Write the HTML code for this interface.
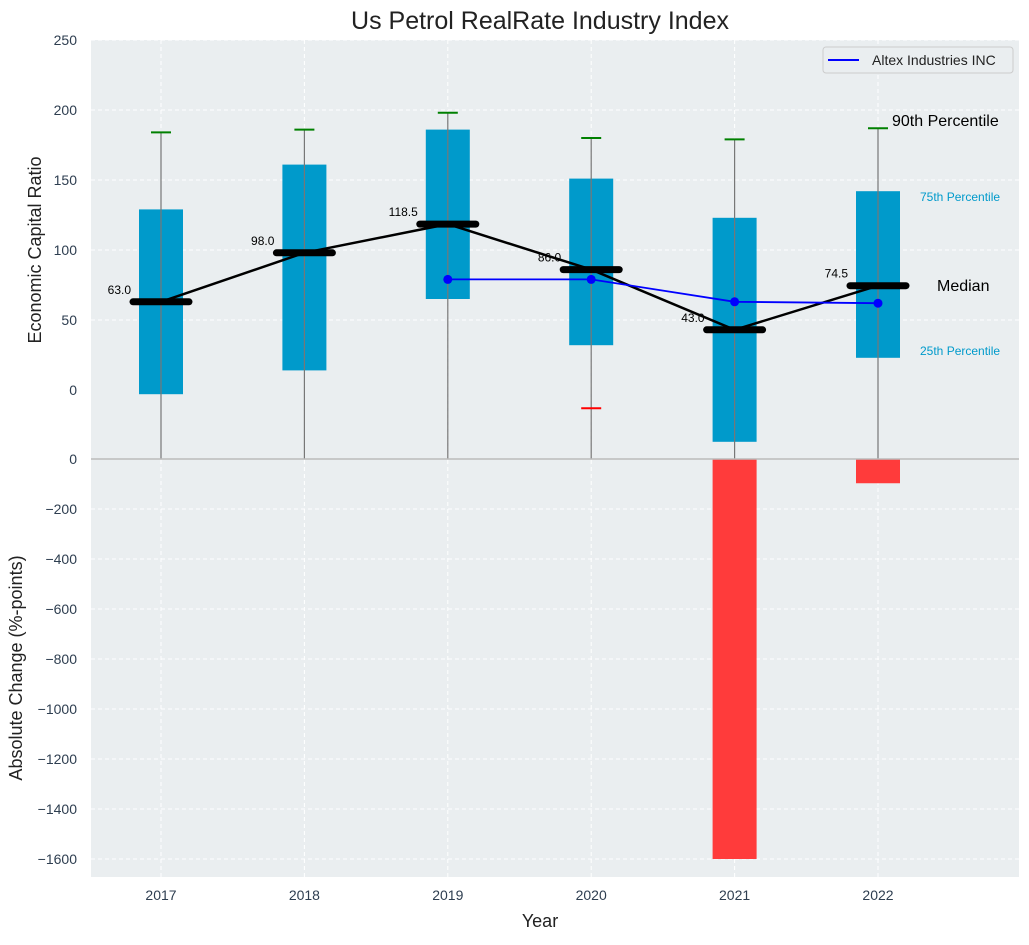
<!DOCTYPE html>
<html><head><meta charset="utf-8"><style>
body{margin:0;background:#fff;}
svg{font-family:"Liberation Sans",sans-serif;}
</style></head><body>
<svg id="c" width="1029" height="940" xmlns="http://www.w3.org/2000/svg">
<text x="540" y="29" font-size="25" text-anchor="middle" fill="#222">Us Petrol RealRate Industry Index</text>
<g id="g"></g>
</svg>
<script>
const years=['2017','2018','2019','2020','2021','2022'];
const q1=[-3,14,65,32,-37,23];
const q3=[129,161,186,151,123,142];
const medians=[63.0,98.0,118.5,86.0,43.0,74.5];
const p90=[184,186,198,180,179,187];
const p10=[-60,-60,-60,-13,-60,-60];
const altexYears=[2,3,4,5];
const altex=[79,79,63,62];
const changes=[0,0,0,0,-1600,-97];
const topTicks=[0,50,100,150,200,250];
const botTicks=[0,-200,-400,-600,-800,-1000,-1200,-1400,-1600];

const NS='http://www.w3.org/2000/svg';
const g=document.getElementById('g');
const L=91,R=1019;
const TC='#2e3e50';
const X=i=>161+i*143.4;
const Y1=v=>390-v*1.4;
const Y2=v=>459-v*0.25;
function mk(t,a,p){const e=document.createElementNS(NS,t);for(const k in a)e.setAttribute(k,a[k]);(p||g).appendChild(e);return e;}
let e;
e=mk('rect',{x:L,y:40,width:R-L,height:419,fill:'#eaeef0'});


e=mk('rect',{x:L,y:459,width:R-L,height:418,fill:'#eaeef0'});


topTicks.forEach(t=>{
 if(t!==0){e=mk('line',{x1:L,x2:R,y1:Y1(t),y2:Y1(t),stroke:'#fff','stroke-dasharray':'4,3'});
 
 }
 e=mk('text',{x:77,y:Y1(t)+5,'font-size':14,'text-anchor':'end',fill:TC});e.textContent=t;
 
 });
botTicks.forEach(t=>{
 if(t!==0){e=mk('line',{x1:L,x2:R,y1:Y2(t),y2:Y2(t),stroke:'#fff','stroke-dasharray':'4,3'});
 
 }
 e=mk('text',{x:77,y:Y2(t)+5,'font-size':14,'text-anchor':'end',fill:TC});e.textContent=t===0?'0':'\u2212'+(-t);
 
 });
years.forEach((y,i)=>{
 e=mk('line',{x1:X(i),x2:X(i),y1:40,y2:877,stroke:'#fff','stroke-dasharray':'4,3'});
 
 
 e=mk('text',{x:X(i),y:900,'font-size':14,'text-anchor':'middle',fill:TC});e.textContent=y;
 
 });
years.forEach((y,i)=>{
 e=mk('rect',{x:X(i)-22,y:Y1(q3[i]),width:44,height:Y1(q1[i])-Y1(q3[i]),fill:'#009acb'});
 
 
 e=mk('line',{x1:X(i),x2:X(i),y1:Y1(p90[i]),y2:459,stroke:'#777','stroke-width':1.2});
 
 
 e=mk('line',{x1:X(i)-10,x2:X(i)+10,y1:Y1(p90[i]),y2:Y1(p90[i]),stroke:'green','stroke-width':2});
 
 
 if(Y1(p10[i])<459){e=mk('line',{x1:X(i)-10,x2:X(i)+10,y1:Y1(p10[i]),y2:Y1(p10[i]),stroke:'red','stroke-width':2});
 
 }
});
years.forEach((y,i)=>{if(!changes[i])return;
 e=mk('rect',{x:X(i)-22,y:Y2(0),width:44,height:Y2(changes[i])-Y2(0),fill:'#ff3b3b'});
 
 });
e=mk('line',{x1:L,x2:R,y1:459,y2:459,stroke:'#bbb','stroke-width':1.5});


e=mk('polyline',{points:medians.map((m,i)=>X(i)+','+Y1(m)).join(' '),fill:'none',stroke:'#000','stroke-width':2.5});


medians.forEach((m,i)=>{
 e=mk('line',{x1:X(i)-28,x2:X(i)+28,y1:Y1(m),y2:Y1(m),stroke:'#000','stroke-width':7,'stroke-linecap':'round'});
 
 
 e=mk('text',{x:X(i)-30,y:Y1(m)-8,'font-size':12,'text-anchor':'end',fill:'#000'});e.textContent=m.toFixed(1);
 
 });
e=mk('polyline',{points:altex.map((v,k)=>X(altexYears[k])+','+Y1(v)).join(' '),fill:'none',stroke:'#0000ff','stroke-width':1.8});


altex.forEach((v,k)=>{e=mk('circle',{cx:X(altexYears[k]),cy:Y1(v),r:4.5,fill:'#0000ff'});
 
 });
const ann=[['90th Percentile',892,126,16,'#000'],['75th Percentile',920,201,12,'#009acb'],['Median',937,291,16,'#000'],['25th Percentile',920,355,12,'#009acb']];
ann.forEach(a=>{e=mk('text',{x:a[1],y:a[2],'font-size':a[3],fill:a[4]});e.textContent=a[0];
 
 });
e=mk('rect',{x:823,y:47,width:190,height:26,rx:3,fill:'#eaeef0',stroke:'#ccc'});


e=mk('line',{x1:828,x2:859,y1:60,y2:60,stroke:'#0000ff','stroke-width':2});


e=mk('text',{x:872,y:65,'font-size':14,fill:'#222'});e.textContent='Altex Industries INC';


e=mk('text',{x:540,y:927,'font-size':18,'text-anchor':'middle',fill:'#222'});e.textContent='Year';


e=mk('text',{x:0,y:0,'font-size':18,'text-anchor':'middle',fill:'#222',transform:'translate(41,250) rotate(-90)'});e.textContent='Economic Capital Ratio';


e=mk('text',{x:0,y:0,'font-size':18,'text-anchor':'middle',fill:'#222',transform:'translate(22,668) rotate(-90)'});e.textContent='Absolute Change (%-points)';


</script>
</body></html>
